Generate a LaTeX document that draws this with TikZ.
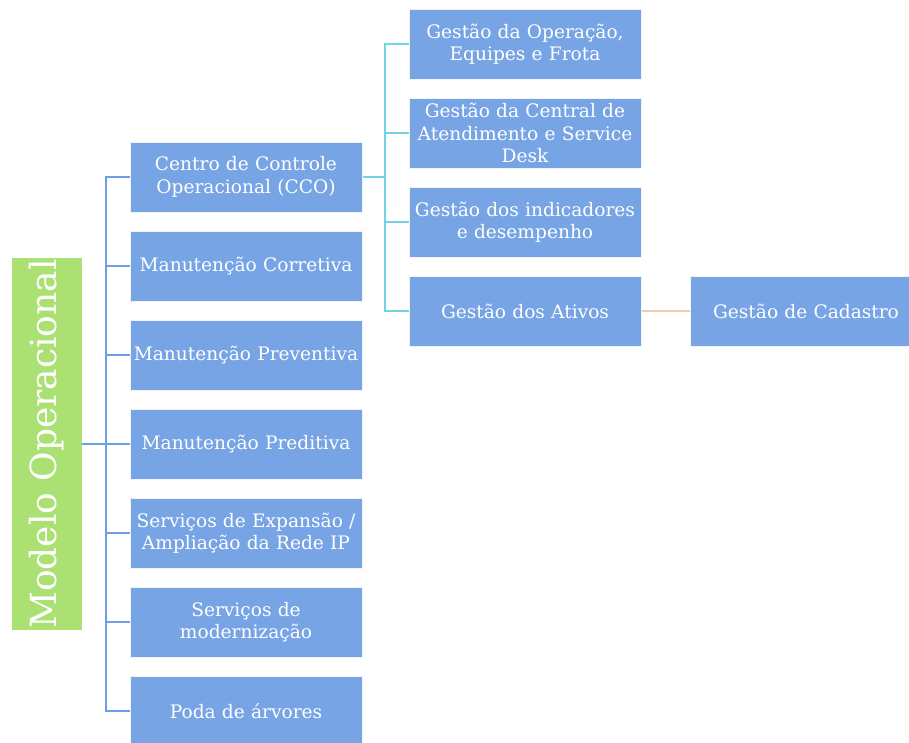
\documentclass[tikz,border=0pt]{standalone}
\usepackage{fontspec}
\setmainfont{DejaVu Serif}
\usetikzlibrary{positioning}

\definecolor{boxblue}{HTML}{77A4E5}
\definecolor{rootgreen}{HTML}{ABE073}
\definecolor{lineblue}{HTML}{6E9EE6}
\definecolor{linecyan}{HTML}{72D3E2}
\definecolor{lineorange}{HTML}{F5CBA9}

\tikzset{
  item/.style={rectangle, fill=boxblue, draw=white!88!boxblue, line width=1pt,
    text=white, minimum width=232pt, minimum height=70pt, text width=228pt,
    align=center, font=\fontsize{18.6}{22.5}\selectfont,
    inner xsep=2pt, inner ysep=0pt},
  rootbox/.style={rectangle, fill=rootgreen, text=white, rotate=90,
    minimum width=372pt, minimum height=70pt, inner sep=0pt,
    font=\fontsize{36}{40}\selectfont},
  busone/.style={lineblue, line width=1.2pt},
  bustwo/.style={linecyan, line width=1.2pt},
  busthree/.style={lineorange, line width=1.2pt}
}

\begin{document}
\begin{tikzpicture}[x=1pt,y=1pt,node distance=89pt,on grid]
  \useasboundingbox (0,0) rectangle (909,-742);
  \node[rootbox] (modelo) at (47,-444) {Modelo Operacional};
  \node[item] (cco) at (246,-177) {Centro de Controle\\Operacional (CCO)};
  \node[item] (corretiva) [below=of cco] {Manutenção Corretiva};
  \node[item] (preventiva) [below=of corretiva] {Manutenção Preventiva};
  \node[item] (preditiva) [below=of preventiva] {Manutenção Preditiva};
  \node[item] (expansao) [below=of preditiva] {Serviços de Expansão /\\Ampliação da Rede IP};
  \node[item] (moderniza) [below=of expansao] {Serviços de\\modernização};
  \node[item] (poda) [below=of moderniza] {Poda de árvores};
  \node[item] (operacao) at (525,-44) {Gestão da Operação,\\Equipes e Frota};
  \node[item] (central) [below=of operacao] {Gestão da Central de\\Atendimento e Service\\Desk};
  \node[item] (indicadores) [below=of central] {Gestão dos indicadores\\e desempenho};
  \node[item] (ativos) [below=of indicadores] {Gestão dos Ativos};
  \node[item] (cadastro) [right=281pt of ativos] {Gestão de Cadastro};
  % ligacoes
  \coordinate (busa) at (106,-444);
  \coordinate (busb) at (385,-177);
  \draw[busone] (modelo.south) -- (busa);
  \foreach \n in {cco,corretiva,preventiva,preditiva,expansao,moderniza,poda}
    \draw[busone] (busa) |- (\n.west);
  \draw[bustwo] (cco.east) -- (busb);
  \foreach \n in {operacao,central,indicadores,ativos}
    \draw[bustwo] (busb) |- (\n.west);
  \draw[busthree] (ativos.east) -- (cadastro.west);
\end{tikzpicture}
\end{document}
